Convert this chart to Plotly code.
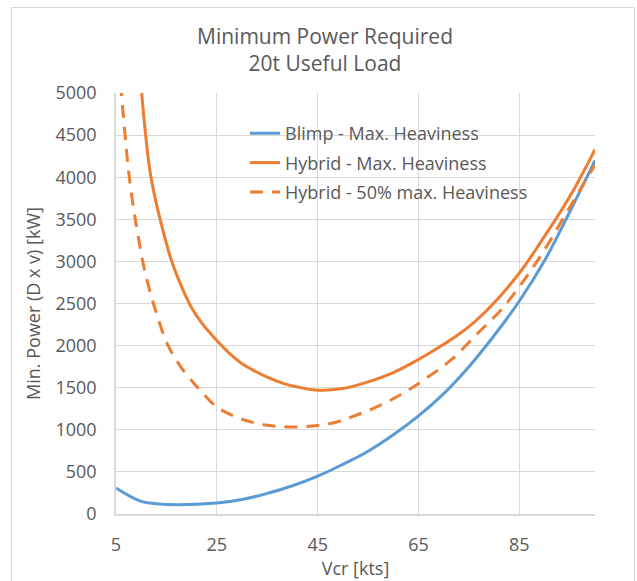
import plotly.graph_objects as go

# Data
vcr_blimp = [5, 10, 13, 17, 25, 30, 35, 40, 45, 50, 55, 60, 65, 70, 75, 80, 85, 90, 95, 100]
p_blimp = [309, 150, 122, 110, 131, 172, 245, 335, 450, 590, 745, 940, 1165, 1430, 1750, 2120, 2530, 3010, 3590, 4200]

vcr_hybrid = [9.2, 10.1, 11, 11.8, 12.8, 13.8, 16, 18, 20, 22, 25, 28, 30, 32, 35, 38, 41, 45, 50,
              55, 60, 65, 70, 75, 80, 85, 90, 95, 100]
p_hybrid = [5800, 5000, 4430, 4050, 3740, 3490, 3010, 2700, 2450, 2270, 2060, 1880, 1785, 1715, 1625, 1555, 1508, 1470, 1490,
            1570, 1680, 1835, 2015, 2225, 2510, 2862, 3300, 3770, 4330]

vcr_hybrid50 = [5, 6.1, 6.8, 7.5, 8.5, 9.4, 10.4, 11.8, 13.1, 15.1, 17.7, 20.4, 22, 25, 30, 35, 40, 45, 48, 51.6,
                56.9, 61.5, 66.1, 71.5, 76.8, 81.4, 86, 90, 94.7, 100]
p_hybrid50 = [5900, 4980, 4505, 4070, 3620, 3300, 2970, 2630, 2370, 2030, 1760, 1556, 1450, 1270, 1125, 1055, 1033, 1050, 1080, 1150,
              1278, 1420, 1595, 1833, 2150, 2426, 2783, 3139, 3614, 4148]

names = ["Blimp - Max. Heaviness", "Hybrid - Max. Heaviness", "Hybrid - 50% max. Heaviness"]

BLUE = "#5B9BD5"
ORANGE = "#ED7D31"
TXT = "#595959"
GRID = "#D9D9D9"
FONT = "Open Sans"

fig = go.Figure()
fig.add_trace(go.Scatter(x=vcr_blimp, y=p_blimp, mode="lines", name=names[0], legendgroup="a",
                         line=dict(color=BLUE, width=3, shape="spline", smoothing=1.2)))
fig.add_trace(go.Scatter(x=vcr_hybrid, y=p_hybrid, mode="lines", name=names[1], legendgroup="b",
                         line=dict(color=ORANGE, width=3, shape="spline", smoothing=1.2)))
fig.add_trace(go.Scatter(x=vcr_hybrid50, y=p_hybrid50, mode="lines", name=names[2], legendgroup="c",
                         line=dict(color=ORANGE, width=3, dash="13px,9px", shape="spline", smoothing=1.0)))

L, R, T, B = 116, 42, 93, 67
pw = 637 - L - R
ph = 581 - T - B

def px_to_paper_x(px):
    return (px - L) / pw

def py_to_paper_y(py):
    return (581 - B - py) / ph

fig.update_layout(
    width=637, height=581,
    margin=dict(l=L, r=R, t=T, b=B, autoexpand=False),
    paper_bgcolor="white", plot_bgcolor="white",
    font=dict(family=FONT, color=TXT, size=18),
    title=dict(text="Minimum Power Required<br>20t Useful Load", x=325/637, xanchor="center",
               xref="container", y=1 - 44/581, yanchor="top", yref="container",
               font=dict(family=FONT, size=21, color=TXT)),
    showlegend=True,
    legend=dict(x=px_to_paper_x(245), y=py_to_paper_y(115), xanchor="left", yanchor="top",
                bgcolor="rgba(0,0,0,0)", borderwidth=0, tracegroupgap=3,
                font=dict(family=FONT, size=18, color=TXT)),
    xaxis=dict(range=[5, 100], tick0=5, dtick=20, showgrid=True, gridcolor=GRID, gridwidth=1.3,
               showline=True, linecolor=GRID, linewidth=1.5, zeroline=False, ticks="",
               ticklabelstandoff=14, automargin=False,
               title=dict(text="Vcr [kts]", font=dict(family=FONT, size=18, color=TXT), standoff=6),
               tickfont=dict(family=FONT, size=18, color=TXT)),
    yaxis=dict(range=[0, 5000], dtick=500, showgrid=True, gridcolor=GRID, gridwidth=1.3,
               showline=True, linecolor=GRID, linewidth=1.5, zeroline=False, ticks="",
               ticklabelstandoff=14, automargin=False,
               title=dict(text="Min. Power (D x v) [kW]", font=dict(family=FONT, size=18, color=TXT), standoff=10),
               tickfont=dict(family=FONT, size=18, color=TXT)),
)

fig.add_shape(type="rect", xref="paper", yref="paper",
              x0=px_to_paper_x(11.5), x1=px_to_paper_x(634.5),
              y0=py_to_paper_y(620), y1=py_to_paper_y(7.5),
              line=dict(color=GRID, width=1), fillcolor="rgba(0,0,0,0)", layer="below")

fig.write_html("out.html")
